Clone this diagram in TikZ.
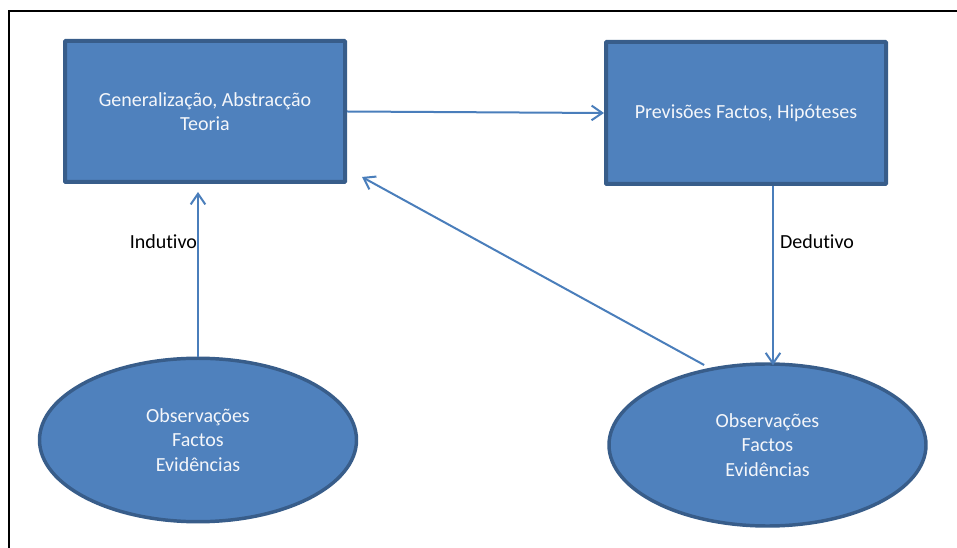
\documentclass[tikz,border=0pt]{standalone}
\usepackage{fontspec}
\setmainfont{Carlito}[Ligatures=NoCommon]
\usetikzlibrary{shapes.geometric,arrows.meta,calc}
\definecolor{boxfill}{HTML}{4F81BD}
\definecolor{boxline}{HTML}{385D8A}
\definecolor{linkcol}{HTML}{4A7EBB}
\definecolor{lighttext}{HTML}{F4F6FA}
\begin{document}
\begin{tikzpicture}[x=0.75pt,y=-0.75pt,
  every node/.style={font=\fontsize{15}{18.4}\selectfont},
  shapebox/.style={rectangle,draw=boxline,fill=boxfill,line width=3pt,
    minimum width=210pt,text=lighttext,align=center,rounded corners=0.6pt},
  shapeoval/.style={ellipse,draw=boxline,fill=boxfill,line width=2.6pt,
    minimum width=237.75pt,text=lighttext,align=center,inner sep=0pt},
  link/.style={draw=linkcol,line width=1.5pt,
    -{Straight Barb[length=8pt,width=11pt,line width=1.5pt]}},
  tag/.style={text=black,inner sep=0pt}]
  \useasboundingbox (0,0) rectangle (957,548);
  % outer frame (top and left edges)
  \draw[line width=1.9pt,black] (9,548) -- (9,11) -- (957,11);

  % blocks
  \node[shapebox,minimum height=105.75pt] (theory) at (205,111.5)
    {Generalização, Abstracção\\Teoria};
  \node[shapebox,minimum height=106.5pt] (predict) at (746,113)
    {Previsões Factos, Hipóteses};
  \node[shapeoval,minimum height=122.6pt] (obsL) at (198,440)
    {Observações\\Factos\\Evidências};
  \node[shapeoval,minimum height=121.5pt] (obsR) at (767.5,445)
    {Observações\\Factos\\Evidências};

  % connector end points
  \coordinate (indTop) at ($(obsL.north |- theory.south)+(0,8)$);
  \coordinate (dedTop) at ($(predict.south)+(27,0)$);
  \coordinate (dedBot) at ($(dedTop |- obsR.north)+(0,3)$);
  \coordinate (backTip) at ($(theory.south east)+(15,-7)$);

  % connectors
  \draw[link] (theory.east) -- (predict.west);
  \draw[link] (obsL.north) -- (indTop)
    node[tag,pos=0.70,anchor=east] {Indutivo};
  \draw[link] (dedTop) -- (dedBot)
    node[tag,pos=0.31,anchor=west,xshift=4.5pt] {Dedutivo};
  \draw[link,shorten <=4.5pt] (obsR.127) -- (backTip);
\end{tikzpicture}
\end{document}
